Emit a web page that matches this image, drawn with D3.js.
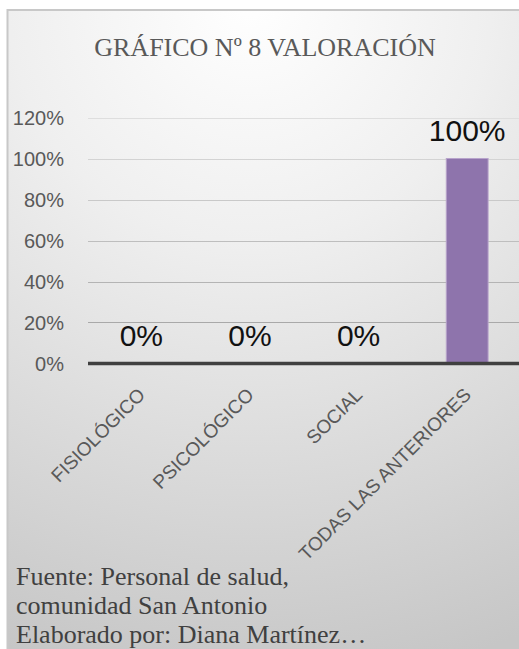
<!DOCTYPE html>
<html>
<head>
<meta charset="utf-8">
<script src="https://cdn.jsdelivr.net/npm/d3@7"></script>
<style>
  html, body { margin: 0; padding: 0; background: #ffffff; }
  svg { display: block; }
</style>
</head>
<body>
<svg id="chart" width="519" height="649"></svg>
<script>
// Chart data
const categories = ["FISIOLÓGICO", "PSICOLÓGICO", "SOCIAL", "TODAS LAS ANTERIORES"];
const values = [0, 0, 0, 1.0];
const yTicks = [0, 0.2, 0.4, 0.6, 0.8, 1.0, 1.2];
const titleText = "GRÁFICO Nº 8 VALORACIÓN";
const footerLines = [
  "Fuente: Personal de salud,",
  "comunidad San Antonio",
  "Elaborado por: Diana Martínez…"
];

const svg = d3.select("#chart");
const W = 519, H = 649;

// Radial background fill of the chart area
const defs = svg.append("defs");
const rg = defs.append("radialGradient")
  .attr("id", "bg")
  .attr("gradientUnits", "userSpaceOnUse")
  .attr("cx", 250).attr("cy", 0).attr("r", 690);
rg.append("stop").attr("offset", "0").attr("stop-color", "#ffffff");
rg.append("stop").attr("offset", "0.35").attr("stop-color", "#efefef");
rg.append("stop").attr("offset", "1").attr("stop-color", "#c6c6c6");

svg.append("rect")
  .attr("x", 7.5).attr("y", 10)
  .attr("width", 530).attr("height", 660)
  .attr("fill", "url(#bg)")
  .attr("stroke", "#c8c8c8")
  .attr("stroke-width", 2);

// Scales
const y = d3.scaleLinear().domain([0, 1.2]).range([363.5, 117.5]);
const x = d3.scaleBand()
  .domain(categories)
  .range([87, 521.5])
  .paddingInner(0.615)
  .paddingOuter(0.3075);

const plotLeft = 88, plotRight = 525;
const gridColor = d3.scaleLinear()
  .domain([0.2, 1.2])
  .range(["#a9a9a9", "#dedede"]);

// Gridlines
svg.append("g")
  .selectAll("line")
  .data(yTicks.filter(t => t > 0))
  .join("line")
  .attr("x1", plotLeft).attr("x2", plotRight)
  .attr("y1", d => Math.round(y(d)) + 0.5)
  .attr("y2", d => Math.round(y(d)) + 0.5)
  .attr("stroke", d => gridColor(d))
  .attr("stroke-width", 1.2);

// Y axis labels
const yAxis = d3.axisLeft(y)
  .tickValues(yTicks)
  .tickFormat(d3.format(".0%"))
  .tickSize(0)
  .tickPadding(0);
const gy = svg.append("g")
  .attr("transform", "translate(64,0)")
  .call(yAxis);
gy.select(".domain").remove();
gy.selectAll("text")
  .attr("font-family", "'Liberation Sans', Arial, sans-serif")
  .attr("font-size", 20)
  .attr("fill", "#595959")
  .attr("dy", "0.35em");

// Bars
svg.append("g")
  .selectAll("rect")
  .data(categories.map((c, i) => ({ c, v: values[i] })))
  .join("rect")
  .attr("x", d => x(d.c))
  .attr("width", x.bandwidth())
  .attr("y", d => y(d.v))
  .attr("height", d => y(0) - y(d.v))
  .attr("fill", "#8e74ac")
  .attr("stroke", "#b7a3cb")
  .attr("stroke-width", 1);

// Category axis line
svg.append("line")
  .attr("x1", plotLeft).attr("x2", plotRight)
  .attr("y1", y(0)).attr("y2", y(0))
  .attr("stroke", "#404040")
  .attr("stroke-width", 3.5);

// Value labels
svg.append("g")
  .selectAll("text")
  .data(categories.map((c, i) => ({ c, v: values[i] })))
  .join("text")
  .attr("x", d => x(d.c) + x.bandwidth() / 2)
  .attr("y", d => y(d.v) - 18)
  .attr("text-anchor", "middle")
  .attr("font-family", "'Liberation Sans', Arial, sans-serif")
  .attr("font-size", 30)
  .attr("fill", "#111111")
  .text(d => d3.format(".0%")(d.v));

// Rotated category labels
svg.append("g")
  .selectAll("text")
  .data(categories)
  .join("text")
  .attr("transform", d => `translate(${x(d) + x.bandwidth() / 2 + 5},396) rotate(-45)`)
  .attr("text-anchor", "end")
  .attr("font-family", "'Liberation Sans', Arial, sans-serif")
  .attr("font-size", 19)
  .attr("fill", "#595959")
  .text(d => d);

// Title
svg.append("text")
  .attr("x", 265).attr("y", 56)
  .attr("text-anchor", "middle")
  .attr("font-family", "'Liberation Serif', 'Times New Roman', serif")
  .attr("font-size", 26)
  .attr("fill", "#595959")
  .text(titleText);

// Source notes
svg.append("g")
  .selectAll("text")
  .data(footerLines)
  .join("text")
  .attr("x", 16)
  .attr("y", (d, i) => 585 + i * 29)
  .attr("font-family", "'Liberation Serif', 'Times New Roman', serif")
  .attr("font-size", 26)
  .attr("fill", "#404040")
  .text(d => d);
</script>
</body>
</html>
